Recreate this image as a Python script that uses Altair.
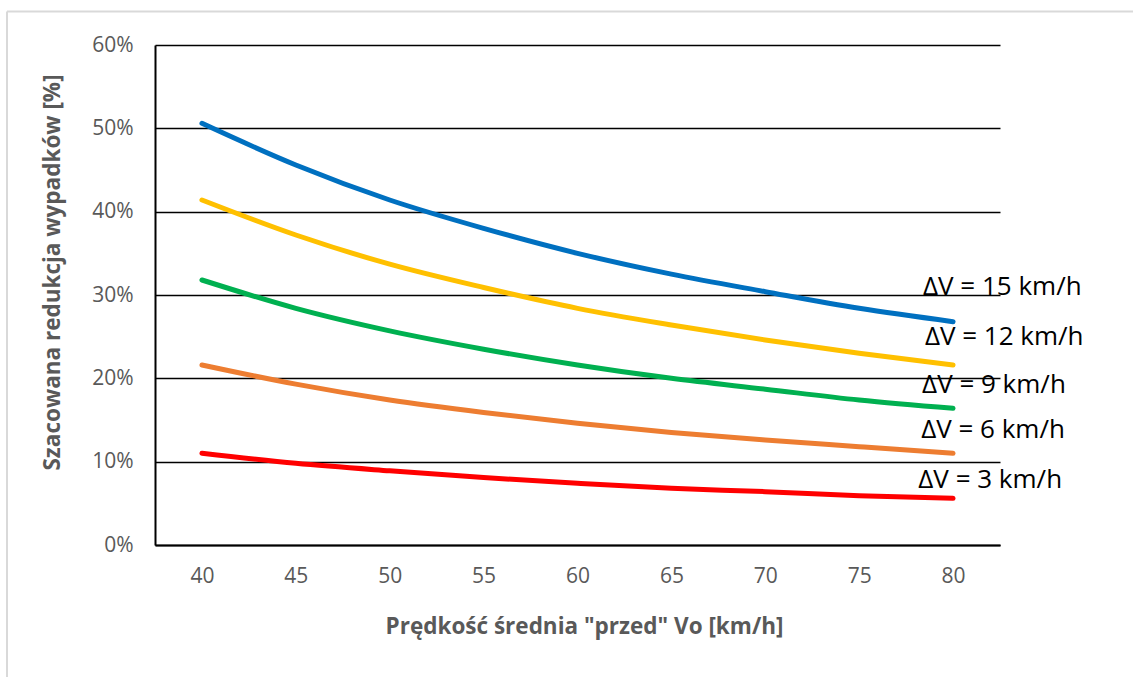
import altair as alt
import pandas as pd

# ---- data ----
speeds = [40, 45, 50, 55, 60, 65, 70, 75, 80]
dv15 = [50.6, 45.6, 41.4, 38.0, 35.0, 32.5, 30.4, 28.4, 26.8]
dv12 = [41.4, 37.2, 33.7, 30.9, 28.4, 26.4, 24.6, 23.0, 21.6]
dv9 = [31.8, 28.4, 25.7, 23.5, 21.6, 20.0, 18.7, 17.4, 16.4]
dv6 = [21.6, 19.3, 17.4, 15.9, 14.6, 13.5, 12.6, 11.8, 11.0]
dv3 = [11.0, 9.8, 8.9, 8.1, 7.4, 6.8, 6.4, 5.9, 5.6]

series_names = ["ΔV = 15 km/h", "ΔV = 12 km/h", "ΔV = 9 km/h", "ΔV = 6 km/h", "ΔV = 3 km/h"]
series_colors = ["#0070C0", "#FFC000", "#00B050", "#ED7D31", "#FF0000"]
series_values = [dv15, dv12, dv9, dv6, dv3]

# label anchor positions (data units)
label_x = [78.4, 78.5, 78.35, 78.3, 78.15]
label_y = [30.0, 24.0, 18.2, 12.8, 6.8]

y_ticks = [0, 10, 20, 30, 40, 50, 60]

rows = []
for name, vals in zip(series_names, series_values):
    for s, v in zip(speeds, vals):
        rows.append({"speed": s, "value": v, "series": name})
df = pd.DataFrame(rows)

labels_df = pd.DataFrame({"series": series_names, "lx": label_x, "ly": label_y})

FONT = "Open Sans"
GREY = "#595959"

x_enc = alt.X(
    "speed:Q",
    scale=alt.Scale(domain=[37.5, 82.5], nice=False, zero=False),
    axis=alt.Axis(
        values=speeds,
        title='Prędkość średnia "przed" Vo [km/h]',
        grid=False,
        ticks=False,
        domainColor="#000000",
        domainWidth=2,
        labelFont=FONT,
        labelFontSize=21,
        labelColor=GREY,
        labelPadding=20,
        titleFont=FONT,
        titleFontSize=22.5,
        titleFontWeight="bold",
        titleColor=GREY,
        titleX=429,
        titleY=81,
        titleBaseline="middle",
    ),
)

y_enc = alt.Y(
    "value:Q",
    scale=alt.Scale(domain=[0, 60], nice=False),
    axis=alt.Axis(
        values=y_ticks,
        labelExpr="datum.value + '%'",
        title="Szacowana redukcja wypadków [%]",
        grid=True,
        gridColor="#000000",
        gridWidth=1.4,
        ticks=False,
        domainColor="#000000",
        domainWidth=2,
        labelFont=FONT,
        labelFontSize=21,
        labelColor=GREY,
        labelPadding=22,
        titleFont=FONT,
        titleFontSize=22.5,
        titleFontWeight="bold",
        titleColor=GREY,
        titleX=-103,
        titleY=227,
        titleAngle=270,
        titleAlign="center",
        titleBaseline="middle",
    ),
)

color_enc = alt.Color(
    "series:N",
    scale=alt.Scale(domain=series_names, range=series_colors),
    legend=None,
)

lines = (
    alt.Chart(df)
    .mark_line(strokeWidth=5, interpolate="monotone", strokeCap="round")
    .encode(x=x_enc, y=y_enc, color=color_enc, detail="series:N")
)

texts = (
    alt.Chart(labels_df)
    .mark_text(align="left", baseline="alphabetic", font=FONT, fontSize=26, color="#000000")
    .encode(x=alt.X("lx:Q"), y=alt.Y("ly:Q"), text="series:N")
)

frame_top = (
    alt.Chart(alt.Data(values=[{}]))
    .mark_rule(color="#D9D9D9", strokeWidth=2)
    .encode(x=alt.value(-148), x2=alt.value(990), y=alt.value(-33.5))
)
frame_left = (
    alt.Chart(alt.Data(values=[{}]))
    .mark_rule(color="#D9D9D9", strokeWidth=2)
    .encode(x=alt.value(-148), y=alt.value(-33.5), y2=alt.value(640))
)

chart = (
    alt.layer(frame_top, frame_left, lines, texts)
    .properties(
        width=845,
        height=500,
        autosize=alt.AutoSizeParams(type="none"),
        padding={"left": 155, "top": 45, "right": 133, "bottom": 132},
        background="#FFFFFF",
    )
    .configure_view(stroke=None)
)

chart.save("out.html", embed_options={"renderer": "svg", "actions": False})
